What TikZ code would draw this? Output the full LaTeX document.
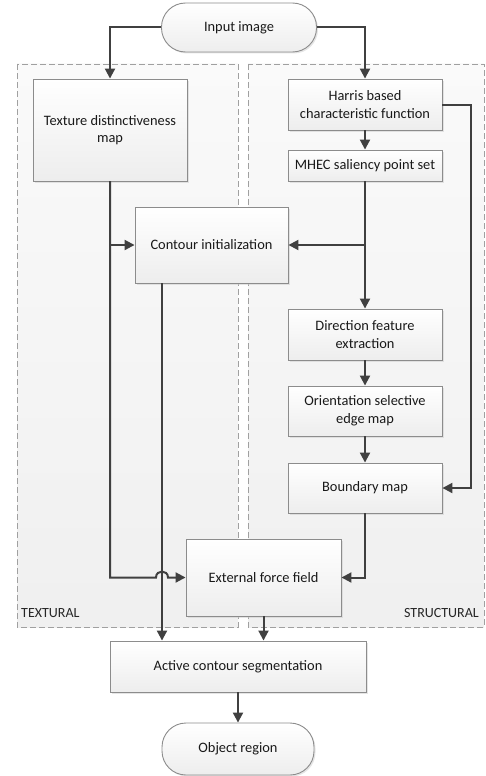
\documentclass[tikz,border=0pt]{standalone}
\usepackage{fontspec}
\setmainfont{Carlito}
\usetikzlibrary{arrows.meta,shadows}

\definecolor{linegray}{HTML}{404040}
\definecolor{boxgray}{HTML}{8C8C8C}
\definecolor{panelgray}{HTML}{A0A0A0}

\begin{document}
\begin{tikzpicture}[x=1pt,y=-1pt,
    proc_box/.style={draw=boxgray,line width=0.9pt,top color=white,bottom color=gray!14,
      drop shadow={shadow xshift=1.5pt,shadow yshift=-1.5pt,fill=gray!40,opacity=0.5},
      align=center,text=black!90,font=\fontsize{14.4}{17.6}\selectfont,inner sep=2pt},
    term_node/.style={proc_box,rounded corners=24pt},
    panel_box/.style={draw=panelgray,dashed,dash pattern=on 6pt off 3pt,line width=0.9pt,
      top color=gray!4,bottom color=gray!12},
    panel_label/.style={text=black!85,font=\fontsize{14}{16}\selectfont,inner sep=0pt},
    flow_edge/.style={draw=linegray,line width=2pt,-{Triangle[length=10pt,width=10pt]}}]
  \useasboundingbox (0,0) rectangle (485,776);
  % group panels
  \draw[panel_box] (17,64) rectangle (238,627);
  \draw[panel_box] (248,64) rectangle (484,627);
  \node[panel_label,anchor=west] (textural) at (21,613) {TEXTURAL};
  \node[panel_label,anchor=east] (structural) at (479,613) {STRUCTURAL};
\node[term_node,minimum width=155,minimum height=49] (input) at (239,27.5) {Input image};
\node[proc_box,minimum width=154,minimum height=102] (texture) at (110,130) {Texture distinctiveness\\map};
\node[proc_box,minimum width=154,minimum height=51] (harris) at (365,104.5) {Harris based\\characteristic function};
\node[proc_box,minimum width=154,minimum height=31] (mhec) at (365,165.5) {MHEC saliency point set};
\node[proc_box,minimum width=153,minimum height=76] (contour) at (211.5,245) {Contour initialization};
\node[proc_box,minimum width=154,minimum height=51] (direction) at (365,334.5) {Direction feature\\extraction};
\node[proc_box,minimum width=154,minimum height=50] (orientation) at (365,411) {Orientation selective\\edge map};
\node[proc_box,minimum width=154,minimum height=50] (boundary) at (365,488) {Boundary map};
\node[proc_box,minimum width=155,minimum height=77] (force) at (263.5,577.5) {External force field};
\node[proc_box,minimum width=256,minimum height=51] (active) at (238,666.5) {Active contour segmentation};
\node[term_node,minimum width=152,minimum height=52] (object) at (238,749) {Object region};
  \coordinate (bridge_mid) at (162,577.5);
  \coordinate (bridge_in) at (156,577.5);
  \coordinate (bridge_out) at (168,577.5);
\draw[flow_edge] (input.west) -| (texture.north);
\draw[flow_edge] (input.east) -| (harris.north);
\draw[flow_edge] (texture.south) |- (contour.west);
\draw[flow_edge] (texture.south) |- (bridge_in) .. controls (156,569.5) and (168,569.5) .. (bridge_out) -- (force.west);
\draw[flow_edge] (harris.south) -- (mhec.north);
\draw[flow_edge] (mhec.south) |- (contour.east);
\draw[flow_edge] (mhec.south) -- (direction.north);
\draw[flow_edge] (direction.south) -- (orientation.north);
\draw[flow_edge] (orientation.south) -- (boundary.north);
\draw[flow_edge] (harris.east) -- ++(29,0) |- (boundary.east);
\draw[flow_edge] (boundary.south) |- (force.east);
\draw[flow_edge] (contour.south -| bridge_mid) -- (active.north -| bridge_mid);
\draw[flow_edge] (force.south) -- (force.south |- active.north);
\draw[flow_edge] (active.south) -- (object.north);
\end{tikzpicture}
\end{document}
